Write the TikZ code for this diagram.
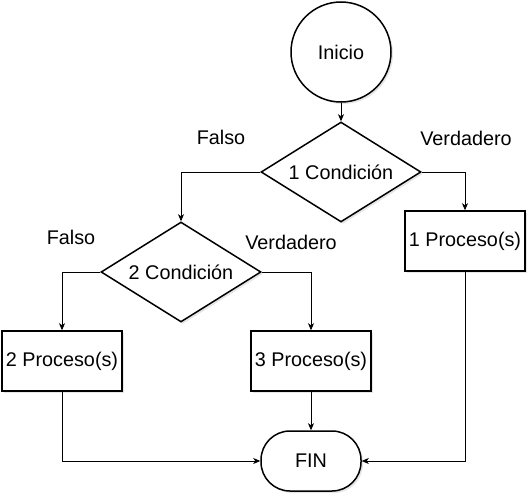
\documentclass[tikz,border=0pt]{standalone}
\usepackage{fontspec}
\setmainfont{Liberation Sans}
\usepackage{tikz}
\usetikzlibrary{arrows.meta,shapes.geometric,shadows}

\tikzset{
    base/.style={draw, line width=1.5pt, fill=white, inner sep=0pt, font=\fontsize{19.8}{24}\selectfont,
        drop shadow={opacity=0.2, shadow xshift=2pt, shadow yshift=-2pt}},
    inicioshape/.style={base, circle, minimum size=100pt},
    condshape/.style={base, diamond, aspect=1.6, minimum width=160pt, minimum height=100pt},
    procshape/.style={base, rectangle, minimum width=120pt, minimum height=60pt},
    finshape/.style={base, rectangle, rounded corners=29pt, minimum width=100pt, minimum height=60pt},
    etiqueta/.style={font=\fontsize{19.8}{24}\selectfont, inner sep=0pt},
    flecha/.style={line width=0.8pt, -{Stealth[length=7pt, width=6pt, inset=2pt]}}
}

\begin{document}
\begin{tikzpicture}[x=1pt, y=-1pt]
        \useasboundingbox (0, 0) rectangle (528, 495);

        \node[inicioshape] (inicio) at (341, 52) {Inicio};
        \node[condshape] (cond1) at (341, 172) {1 Condición};
        \node[condshape] (cond2) at (181, 272) {2 Condición};
        \node[procshape] (proc1) at (465, 241) {1 Proceso(s)};
        \node[procshape] (proc2) at (62, 361) {2 Proceso(s)};
        \node[procshape] (proc3) at (311, 361) {3 Proceso(s)};
        \node[finshape] (fin) at (311, 461) {FIN};

        \node[etiqueta] (falso1) at (221, 137) {Falso};
        \node[etiqueta] (verdad1) at (466, 138) {Verdadero};
        \node[etiqueta] (falso2) at (71, 237) {Falso};
        \node[etiqueta] (verdad2) at (291, 242) {Verdadero};

        \draw[flecha] (inicio) -- (cond1);
        \draw[flecha] (cond1.west) -| (cond2.north);
        \draw[flecha] (cond1.east) -| (proc1.north);
        \draw[flecha] (cond2.west) -| (proc2.north);
        \draw[flecha] (cond2.east) -| (proc3.north);
        \draw[flecha] (proc2.south) |- (fin.west);
        \draw[flecha] (proc3) -- (fin);
        \draw[flecha] (proc1.south) |- (fin.east);
    \end{tikzpicture}
\end{document}
